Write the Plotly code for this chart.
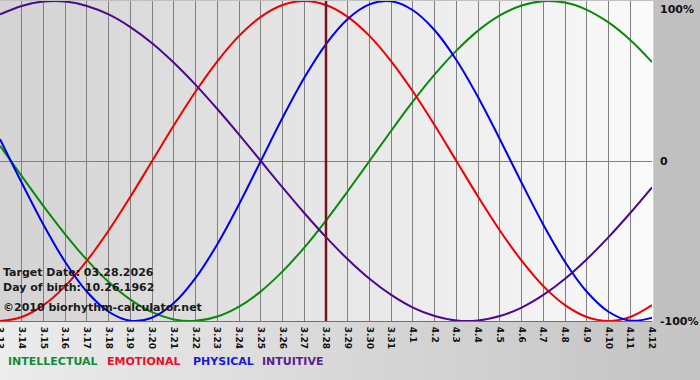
import plotly.graph_objects as go

# ---------------- data ----------------
dates = ["3.13", "3.14", "3.15", "3.16", "3.17", "3.18", "3.19", "3.20", "3.21", "3.22",
         "3.23", "3.24", "3.25", "3.26", "3.27", "3.28", "3.29", "3.30", "3.31", "4.1",
         "4.2", "4.3", "4.4", "4.5", "4.6", "4.7", "4.8", "4.9", "4.10", "4.11", "4.12"]

intellectual = [0.095, -0.095, -0.282, -0.458, -0.618, -0.756, -0.866, -0.945, -0.990, -0.999,
                -0.972, -0.910, -0.815, -0.690, -0.541, -0.372, -0.189, 0.0, 0.189, 0.372,
                0.541, 0.690, 0.815, 0.910, 0.972, 0.999, 0.990, 0.945, 0.866, 0.756, 0.618]

emotional = [-1.0, -0.975, -0.901, -0.782, -0.623, -0.434, -0.223, 0.0, 0.223, 0.434,
             0.623, 0.782, 0.901, 0.975, 1.0, 0.975, 0.901, 0.782, 0.623, 0.434,
             0.223, 0.0, -0.223, -0.434, -0.623, -0.782, -0.901, -0.975, -1.0, -0.975, -0.901]

physical = [0.136, -0.136, -0.398, -0.631, -0.817, -0.942, -0.998, -0.979, -0.888, -0.731,
            -0.520, -0.270, 0.0, 0.270, 0.520, 0.731, 0.888, 0.979, 0.998, 0.942,
            0.817, 0.631, 0.398, 0.136, -0.136, -0.398, -0.631, -0.817, -0.942, -0.998, -0.979]

intuitive = [0.916, 0.969, 0.997, 0.997, 0.969, 0.916, 0.837, 0.736, 0.614, 0.476,
             0.325, 0.165, 0.0, -0.165, -0.325, -0.476, -0.614, -0.736, -0.837, -0.916,
             -0.969, -0.997, -0.997, -0.969, -0.916, -0.837, -0.736, -0.614, -0.476, -0.325, -0.165]

target_label = "3.28"
y_ticks = [1, 0, -1]
y_tick_text = ["100%", "0", "-100%"]
info_lines = ["Target Date: 03.28.2026", "Day of birth: 10.26.1962", "\u00a92010 biorhythm-calculator.net"]
series_names = ["INTELLECTUAL", "EMOTIONAL", "PHYSICAL", "INTUITIVE"]

# ---------------- styles ----------------
colors = {"INTELLECTUAL": "#0a8a0a", "EMOTIONAL": "#ee0000",
          "PHYSICAL": "#0000ee", "INTUITIVE": "#4b0a8c"}
legend_colors = {"INTELLECTUAL": "#138a3a", "EMOTIONAL": "#e8102a",
                 "PHYSICAL": "#1a1ad8", "INTUITIVE": "#5a2090"}

W, H = 700, 380
ML, MR, MT, MB = 0, 48, 1, 59
PW, PH = W - ML - MR, H - MT - MB

fig = go.Figure()
for name, vals in zip(series_names, [intellectual, emotional, physical, intuitive]):
    fig.add_trace(go.Scatter(x=dates, y=vals, mode="lines", name=name,
                             line=dict(color=colors[name], width=2, shape="spline", smoothing=1.0),
                             hoverinfo="skip"))

shapes = []
# plot background gradient (dark left -> light right)
n = 60
for i in range(n):
    t = i / (n - 1)
    c = int(212 + (250 - 212) * t)
    shapes.append(dict(type="rect", xref="paper", yref="paper",
                       x0=i / n, x1=(i + 1) / n + 0.002, y0=0, y1=1,
                       fillcolor=f"rgb({c},{c},{c})", line=dict(width=0), layer="below"))
# bottom area gradient (light left -> darker right)
yb = -MB / PH
xr = W / PW
for i in range(n):
    t = i / (n - 1)
    c = int(236 + (196 - 236) * t)
    shapes.append(dict(type="rect", xref="paper", yref="paper",
                       x0=xr * i / n, x1=xr * (i + 1) / n + 0.002, y0=yb, y1=0,
                       fillcolor=f"rgb({c},{c},{c})", line=dict(width=0), layer="below"))
# target date line
ti = dates.index(target_label)
shapes.append(dict(type="line", xref="x", yref="paper", x0=ti, x1=ti, y0=0, y1=1,
                   line=dict(color="#7a1418", width=2.5), layer="above"))

annotations = []
font_b = "DejaVu Sans, Verdana, sans-serif"
# y labels on the right
for v, txt in zip(y_ticks, y_tick_text):
    annotations.append(dict(x=1, xref="paper", y=v, yref="y", text=f"<b>{txt}</b>",
                            showarrow=False, xanchor="left", xshift=6,
                            yanchor="top" if v == 1 else "middle",
                            font=dict(family=font_b, size=11, color="#111111")))
# info text block
for k, line in enumerate(info_lines):
    ypix = [272, 287, 307][k]
    annotations.append(dict(x=0, xref="paper", xanchor="left", xshift=1,
                            y=1 - (ypix - MT) / PH, yref="paper", yanchor="middle",
                            text=f"<b>{line}</b>", showarrow=False,
                            font=dict(family=font_b, size=11, color="#1a1a1a")))
# colored legend text at bottom
leg_x = [6, 105, 191, 260]
for name, xp in zip(series_names, leg_x):
    annotations.append(dict(x=(xp - ML) / PW, xref="paper", xanchor="left",
                            y=1 - (361 - MT) / PH, yref="paper", yanchor="middle",
                            text=f"<b>{name}</b>", showarrow=False,
                            font=dict(family=font_b, size=11, color=legend_colors[name])))

fig.update_layout(
    width=W, height=H,
    margin=dict(l=ML, r=MR, t=MT, b=MB, pad=0, autoexpand=False),
    paper_bgcolor="#c0c0c0", plot_bgcolor="rgba(0,0,0,0)",
    showlegend=False,
    shapes=shapes, annotations=annotations,
    xaxis=dict(type="category", range=[0, len(dates) - 1], tickmode="array",
               tickvals=dates, ticktext=[f"<b>{d}</b>" for d in dates], tickangle=90,
               automargin=False,
               showgrid=True, gridcolor="#808080", gridwidth=1,
               showline=True, linecolor="#707070", linewidth=1,
               ticks="", zeroline=False, ticklabelstandoff=3,
               tickfont=dict(family=font_b, size=9, color="#111111")),
    yaxis=dict(range=[-1, 1], tickmode="array", tickvals=y_ticks, showticklabels=False,
               automargin=False,
               showgrid=True, gridcolor="#808080", gridwidth=1, zeroline=False,
               showline=False, ticks=""),
)

fig.write_html("out.html")
